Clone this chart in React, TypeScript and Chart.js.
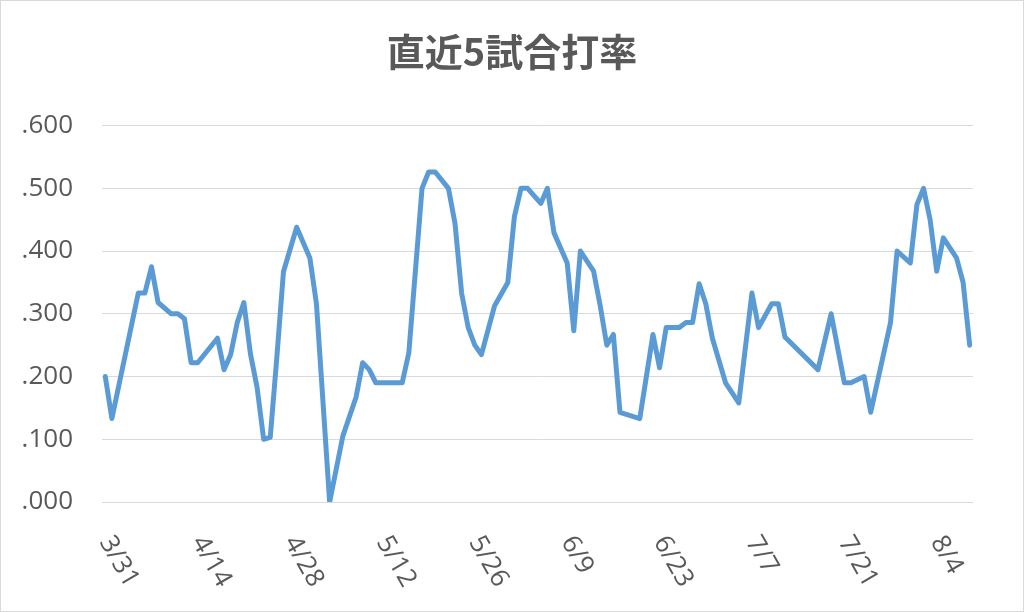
import { useEffect, useRef } from 'react';
import { Chart, registerables } from 'chart.js';

Chart.register(...registerables);

const TITLE = '直近5試合打率';

// game dates (M/D) and the rolling 5-game batting average on that date
const gameDates = [
  '3/31', '4/1', '4/5', '4/6', '4/7', '4/8', '4/10', '4/11', '4/12', '4/13',
  '4/14', '4/17', '4/18', '4/19', '4/20', '4/21', '4/22', '4/23', '4/24', '4/25',
  '4/26', '4/27', '4/29', '5/1', '5/2', '5/4', '5/6', '5/8', '5/9', '5/10',
  '5/11', '5/15', '5/16', '5/18', '5/19', '5/20', '5/22', '5/23', '5/24', '5/25',
  '5/26', '5/27', '5/29', '5/31', '6/1', '6/2', '6/3', '6/5', '6/6', '6/7',
  '6/9', '6/10', '6/11', '6/13', '6/14', '6/15', '6/16', '6/17', '6/20', '6/22',
  '6/23', '6/24', '6/26', '6/27', '6/28', '6/29', '6/30', '7/1', '7/3', '7/5',
  '7/7', '7/8', '7/10', '7/11', '7/12', '7/17', '7/19', '7/21', '7/22', '7/24',
  '7/25', '7/28', '7/29', '7/31', '8/1', '8/2', '8/3', '8/4', '8/5', '8/7',
  '8/8', '8/9',
];
const avg5 = [
  0.200, 0.133, 0.333, 0.333, 0.375, 0.318, 0.300, 0.300, 0.292, 0.222,
  0.222, 0.261, 0.211, 0.235, 0.286, 0.318, 0.236, 0.183, 0.100, 0.103,
  0.231, 0.367, 0.438, 0.389, 0.316, 0.000, 0.105, 0.167, 0.222, 0.211,
  0.190, 0.190, 0.238, 0.500, 0.526, 0.526, 0.500, 0.444, 0.333, 0.278,
  0.250, 0.235, 0.313, 0.350, 0.455, 0.500, 0.500, 0.476, 0.500, 0.429,
  0.381, 0.273, 0.400, 0.368, 0.313, 0.250, 0.267, 0.143, 0.133, 0.267,
  0.214, 0.278, 0.278, 0.286, 0.286, 0.348, 0.316, 0.261, 0.190, 0.158,
  0.333, 0.278, 0.316, 0.316, 0.263, 0.211, 0.300, 0.190, 0.190, 0.200,
  0.143, 0.286, 0.400, 0.381, 0.474, 0.500, 0.450, 0.368, 0.421, 0.389,
  0.350, 0.250,
];
const xTickLabels = ['3/31', '4/14', '4/28', '5/12', '5/26', '6/9', '6/23', '7/7', '7/21', '8/4'];
const firstDate = '3/31';
const lastDate = '8/9';

const GRAY = '#595959';
const LABEL_FONT = '"Open Sans", "Noto Sans", sans-serif';
const LABEL_ANGLE = 60; // degrees, clockwise

// days since the first date
function dayOffset(md: string) {
  const [m, d] = md.split('/').map(Number);
  const [m0, d0] = firstDate.split('/').map(Number);
  return Math.round((Date.UTC(2019, m - 1, d) - Date.UTC(2019, m0 - 1, d0)) / 86400000);
}

// Excel-like date labels slanting down to the right
const slantedDateLabels = {
  id: 'slantedDateLabels',
  afterDraw(chart: Chart) {
    const scale = chart.scales.x;
    const ctx = chart.ctx;
    ctx.save();
    ctx.font = `26px ${LABEL_FONT}`;
    ctx.fillStyle = GRAY;
    ctx.textAlign = 'left';
    ctx.textBaseline = 'middle';
    for (const label of xTickLabels) {
      const px = scale.getPixelForValue(dayOffset(label));
      ctx.save();
      ctx.translate(px, scale.top + 36);
      ctx.rotate((LABEL_ANGLE * Math.PI) / 180);
      ctx.fillText(label, 0, 0);
      ctx.restore();
    }
    ctx.restore();
  },
};

export default function App() {
  const canvasRef = useRef<HTMLCanvasElement | null>(null);

  useEffect(() => {
    document.body.style.margin = '0';
    if (!canvasRef.current) return;

    const points = gameDates.map((d, i) => ({ x: dayOffset(d), y: avg5[i] }));

    const chart = new Chart(canvasRef.current, {
      type: 'line',
      data: {
        datasets: [
          {
            label: TITLE,
            data: points,
            borderColor: '#5B9BD5',
            borderWidth: 5,
            borderJoinStyle: 'round',
            borderCapStyle: 'round',
            pointRadius: 0,
            tension: 0,
          },
        ],
      },
      options: {
        animation: false,
        responsive: true,
        maintainAspectRatio: false,
        layout: { padding: 0 },
        plugins: {
          legend: { display: false },
          tooltip: { enabled: false },
          title: {
            display: true,
            text: TITLE,
            color: GRAY,
            font: { family: '"Noto Sans CJK JP", sans-serif', size: 38, weight: 'bold' },
            padding: { top: 28, bottom: 51 },
          },
        },
        scales: {
          x: {
            type: 'linear',
            min: -0.5,
            max: dayOffset(lastDate) + 0.5,
            grid: { display: false },
            border: { display: false },
            ticks: { display: false },
            afterFit: (s: any) => {
              s.height = 109;
            },
          },
          y: {
            min: 0,
            max: 0.6,
            grid: {
              drawTicks: false,
              color: (c: any) => (Math.round(c.tick.value * 100) % 10 === 0 ? '#d9d9d9' : '#f2f2f2'),
            },
            border: { display: false },
            ticks: {
              stepSize: 0.05,
              padding: 29,
              color: GRAY,
              font: { family: LABEL_FONT, size: 26 },
              callback: (v: any) =>
                Math.round(v * 100) % 10 === 0 ? Number(v).toFixed(3).replace(/^0/, '') : '',
            },
            afterFit: (s: any) => {
              s.width = 101;
            },
          },
          // empty right-hand margin so the title stays centred on the whole chart
          yRight: {
            position: 'right',
            min: 0,
            max: 0.6,
            grid: { display: false },
            border: { display: false },
            ticks: { display: false },
            afterFit: (s: any) => {
              s.width = 50;
            },
          },
        },
      },
      plugins: [slantedDateLabels],
    });

    return () => chart.destroy();
  }, []);

  return (
    <div
      style={{
        width: 1024,
        height: 612,
        boxSizing: 'border-box',
        border: '1px solid #d9d9d9',
        background: '#fff',
        position: 'relative',
      }}
    >
      <canvas ref={canvasRef} />
    </div>
  );
}
